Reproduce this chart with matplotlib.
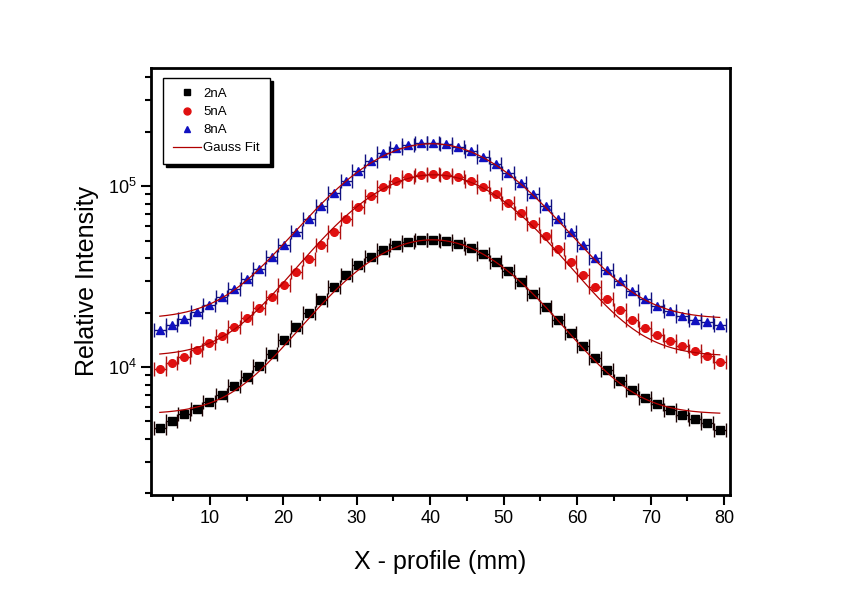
import matplotlib
matplotlib.use("Agg")
import matplotlib.pyplot as plt
import numpy as np
from matplotlib.lines import Line2D
from matplotlib.ticker import LogLocator, LogFormatterMathtext, MultipleLocator, NullFormatter

plt.rcParams['font.family'] = ['Liberation Sans', 'DejaVu Sans']
plt.rcParams['mathtext.fontset'] = 'custom'
plt.rcParams['mathtext.rm'] = 'Liberation Sans'
plt.rcParams['mathtext.it'] = 'Liberation Sans'

x_mm = [3.2, 4.8, 6.5, 8.2, 9.9, 11.6, 13.3, 15.0, 16.7, 18.4, 20.1, 21.8, 23.5, 25.2,
        26.9, 28.6, 30.2, 31.9, 33.6, 35.3, 37.0, 38.7, 40.4, 42.1, 43.8, 45.5, 47.2,
        48.9, 50.6, 52.3, 54.0, 55.7, 57.4, 59.1, 60.8, 62.4, 64.1, 65.8, 67.5, 69.2,
        70.9, 72.6, 74.3, 76.0, 77.7, 79.4]

i_2nA = [4600, 5035, 5500, 5860, 6410, 7000, 7850, 8810, 10140, 11800, 14100, 16640,
         19900, 23400, 27700, 32200, 36600, 40500, 44300, 47200, 49100, 50300,
         50300, 49700, 47800, 45400, 42100, 38100, 33900, 29500, 25300, 21500, 18200,
         15400, 13100, 11200, 9600, 8370, 7470, 6740, 6260, 5800, 5450, 5180, 4930, 4500]

i_5nA = [9750, 10500, 11400, 12400, 13600, 14800, 16600, 18700, 21200, 24400, 28400,
         33500, 39500, 47200, 55700, 65700, 76600, 88100, 98700, 106600, 112100, 115000,
         116500, 115000, 112100, 106600, 98700, 90300, 80600, 70900, 61700, 52900, 44900,
         38000, 32200, 27700, 23800, 20700, 18200, 16400, 15000, 13900, 13100, 12300,
         11500, 10700]

i_8nA = [16000, 17100, 18400, 20100, 22000, 24400, 27000, 30600, 34800, 40600, 47200,
         55700, 65700, 77600, 91500, 106600, 121000, 137400, 152200, 162200, 168500,
         172900, 172900, 170600, 164300, 156100, 144600, 132300, 118000, 103900, 90300,
         77600, 65700, 55700, 47200, 40000, 34300, 29900, 26300, 23800, 21700, 20400,
         19100, 18200, 17700, 17100]

# Gauss fit parameters: y0, A, xc, sigma
fit_2nA = [5500, 45000, 40.3, 10.7]
fit_5nA = [11500, 104000, 40.5, 10.9]
fit_8nA = [18500, 153000, 40.2, 11.1]

labels = ["2nA", "5nA", "8nA", "Gauss Fit"]
xerr = 0.8

fig = plt.figure(figsize=(8.54, 6.0), dpi=100)
ax = fig.add_axes([151/854, 1-495/600, (730-151)/854, (495-68)/600])

series = [
    (i_2nA, fit_2nA, 's', '#000000', '#1a0000'),
    (i_5nA, fit_5nA, 'o', '#e01010', '#b01010'),
    (i_8nA, fit_8nA, '^', '#1010c0', '#101080'),
]
xs = np.linspace(3.2, 79.4, 400)
for vals, fp, mk, col, ecol in series:
    ax.errorbar(x_mm, vals, xerr=xerr, fmt=mk, color=col, ecolor=ecol, ms=5.5,
                mec=col, elinewidth=1.0, capsize=5, capthick=1.0, zorder=3)
    y0, A, xc, w = fp
    ax.plot(xs, y0 + A*np.exp(-(xs-xc)**2/(2*w**2)), color='#b00000', lw=0.9, zorder=4)

ax.set_yscale('log')
ax.set_xlim(2.0, 80.8)
ax.set_ylim(1960, 4.5e5)
ax.xaxis.set_major_locator(MultipleLocator(10))
ax.xaxis.set_minor_locator(MultipleLocator(5))
ax.yaxis.set_major_locator(LogLocator(base=10, numticks=10))
ax.yaxis.set_minor_locator(LogLocator(base=10, subs=np.arange(2, 10), numticks=20))
ax.yaxis.set_major_formatter(LogFormatterMathtext())
ax.yaxis.set_minor_formatter(NullFormatter())

for sp in ax.spines.values():
    sp.set_linewidth(2.0)
ax.tick_params(which='major', direction='out', length=7, width=1.5, labelsize=13,
               top=False, right=False, colors='black')
ax.tick_params(which='minor', direction='out', length=4, width=1.5, top=False, right=False)

ax.set_xlabel("X - profile (mm)", fontsize=18, labelpad=17)
ax.set_ylabel("Relative Intensity", fontsize=18, labelpad=6)

handles = [
    Line2D([], [], marker='s', color='#000000', ls='none', ms=5),
    Line2D([], [], marker='o', color='#e01010', ls='none', ms=5),
    Line2D([], [], marker='^', color='#1010c0', ls='none', ms=5),
    Line2D([], [], color='#b00000', lw=0.9),
]
leg = ax.legend(handles, labels, loc='upper left', bbox_to_anchor=(0.021, 0.977),
                borderaxespad=0, fontsize=9.5, frameon=True, fancybox=False,
                shadow={'color': 'black', 'alpha': 1.0}, handlelength=2.1,
                labelspacing=0.45, borderpad=0.75, handletextpad=0.2)
leg.get_frame().set_edgecolor('black')
leg.get_frame().set_linewidth(1.0)
leg.get_frame().set_alpha(1.0)

fig.savefig("out.png", dpi=100)
